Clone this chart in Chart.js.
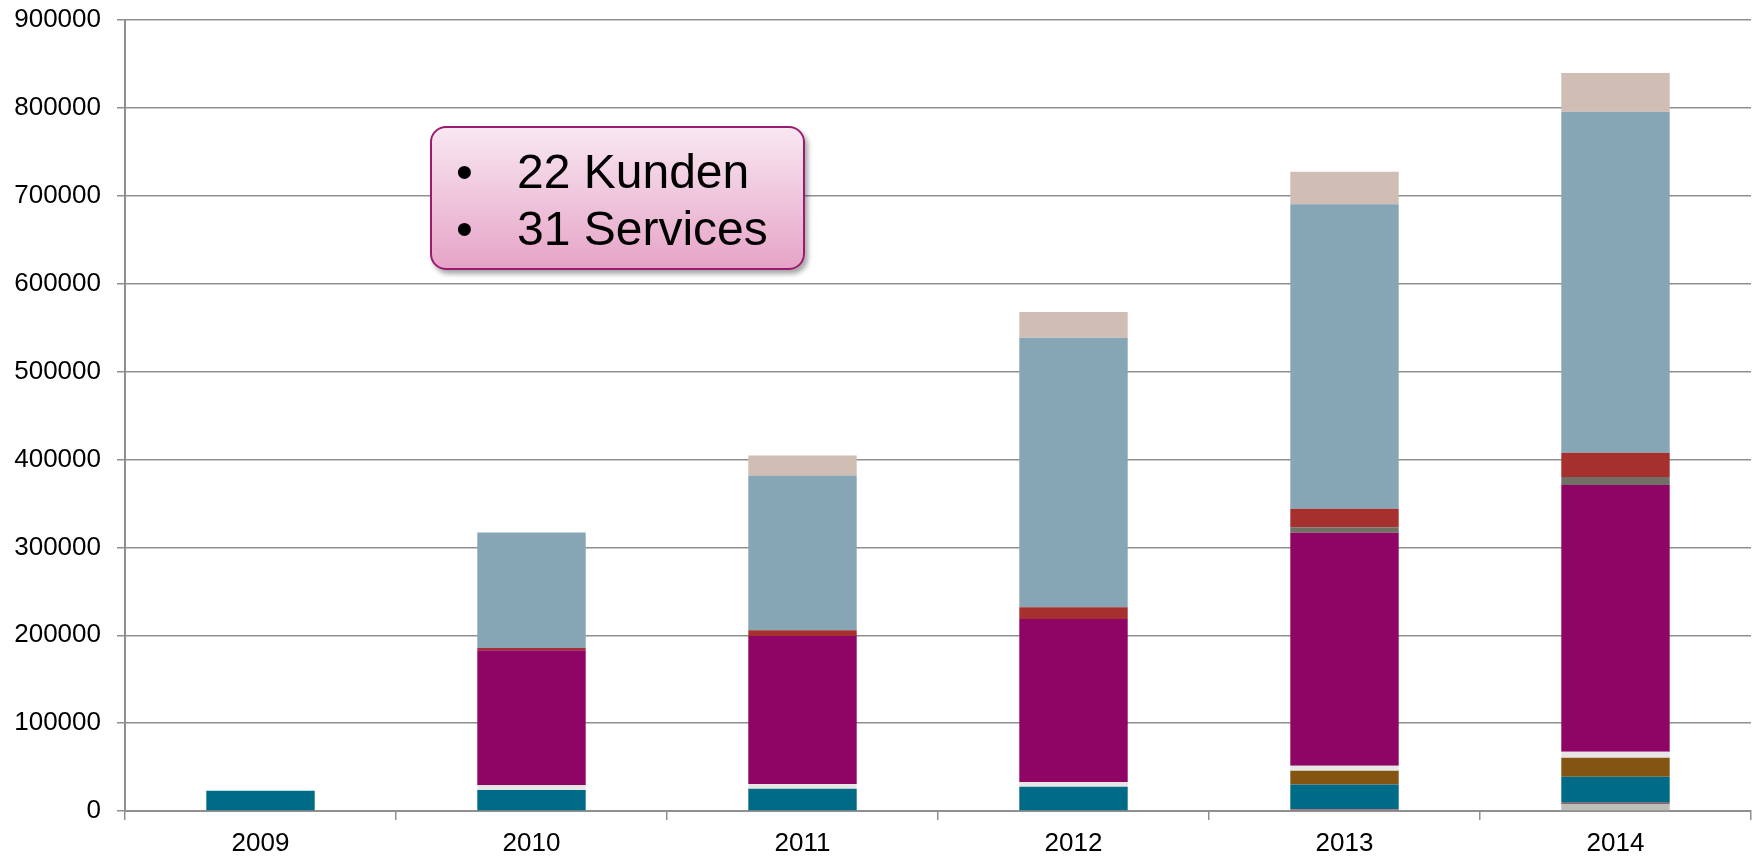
<!DOCTYPE html>
<html lang="de">
<head>
<meta charset="UTF-8">
<title>Kunden und Services</title>
<style>
  html, body { margin: 0; padding: 0; background: #fff; }
  #wrap { position: relative; width: 1756px; height: 856px; }
  #note {
    position: absolute; left: 430px; top: 126px; width: 375px; height: 144px;
    border: 2px solid #9b1b70; border-radius: 16px;
    background: linear-gradient(#f8e7f1, #e6a4c7);
    box-shadow: 3px 4px 5px rgba(0,0,0,0.35);
    font-family: "Liberation Sans", Arial, sans-serif; font-size: 48px; color: #000;
    padding-top: 15px; box-sizing: border-box;
  }
  #note div { position: relative; height: 57px; line-height: 57px; padding-left: 85px; }
  #note div span { position: absolute; left: 24px; }
</style>
</head>
<body>
<div id="wrap">
  <canvas id="chart" width="1756" height="856"></canvas>
  <div id="note">
    <div><span>&bull;</span>22 Kunden</div>
    <div><span>&bull;</span>31 Services</div>
  </div>
</div>

<script src="https://cdn.jsdelivr.net/npm/chart.js@4.4.1/dist/chart.umd.min.js"></script>
<script>
// data, bottom segment first
var years = ["2009", "2010", "2011", "2012", "2013", "2014"];
var yTicks = [0, 100000, 200000, 300000, 400000, 500000, 600000, 700000, 800000, 900000];

var lightGray = [0, 0, 0, 0, 0, 8000];
var mauve     = [0, 0, 0, 0, 2000, 1500];
var teal      = [23000, 23900, 25300, 27600, 28300, 29500];
var brown     = [0, 0, 0, 0, 15500, 21600];
var pale      = [0, 5300, 5400, 5400, 5700, 6800];
var purple    = [0, 153800, 168500, 185500, 265200, 303600];
var darkGray  = [0, 0, 0, 0, 6300, 9000];
var red       = [0, 2600, 6500, 13300, 21000, 27600];
var blueGray  = [0, 131400, 176100, 306800, 346600, 388200];
var tan       = [0, 0, 22700, 29400, 37000, 44200];

function ds(data, color) {
  return { data: data, backgroundColor: color, borderWidth: 0,
           barPercentage: 0.4, categoryPercentage: 1 };
}

var gridCol = "#8f8f8f";
var fam = "'Liberation Sans', Arial, sans-serif";
// small lineHeight on y labels only keeps the plot top at the 900000 line
var xFont = { family: fam, size: 26 };
var yFont = { family: fam, size: 26, lineHeight: 0.32 };

new Chart(document.getElementById("chart"), {
  type: "bar",
  data: {
    labels: years,
    datasets: [
      ds(lightGray, "#bfbdb8"),
      ds(mauve, "#9e5a66"),
      ds(teal, "#006b86"),
      ds(brown, "#845413"),
      ds(pale, "#e6e6e6"),
      ds(purple, "#8e0566"),
      ds(darkGray, "#707164"),
      ds(red, "#a5302e"),
      ds(blueGray, "#86a6b5"),
      ds(tan, "#d0beb4")
    ]
  },
  options: {
    responsive: false,
    animation: false,
    layout: { padding: { top: 0, right: 5, left: 0, bottom: 0 } },
    plugins: { legend: { display: false }, tooltip: { enabled: false } },
    scales: {
      x: {
        stacked: true,
        grid: { offset: true, drawOnChartArea: false, drawTicks: true, tickLength: 9,
                color: gridCol, lineWidth: 1.5 },
        border: { color: gridCol, width: 2 },
        ticks: { color: "#000", font: xFont, padding: 8 },
        afterFit: function (s) { s.height = 45; }
      },
      y: {
        stacked: true,
        min: 0, max: 900000,
        afterBuildTicks: function (s) { s.ticks = yTicks.map(function (v) { return { value: v }; }); },
        grid: { color: gridCol, lineWidth: 1.5, tickLength: 8 },
        border: { color: gridCol, width: 2 },
        ticks: { color: "#000", font: yFont, padding: 16,
                 callback: function (v) { return String(v); } },
        afterFit: function (s) { s.width = 125; }
      }
    }
  }
});
</script>
</body>
</html>
